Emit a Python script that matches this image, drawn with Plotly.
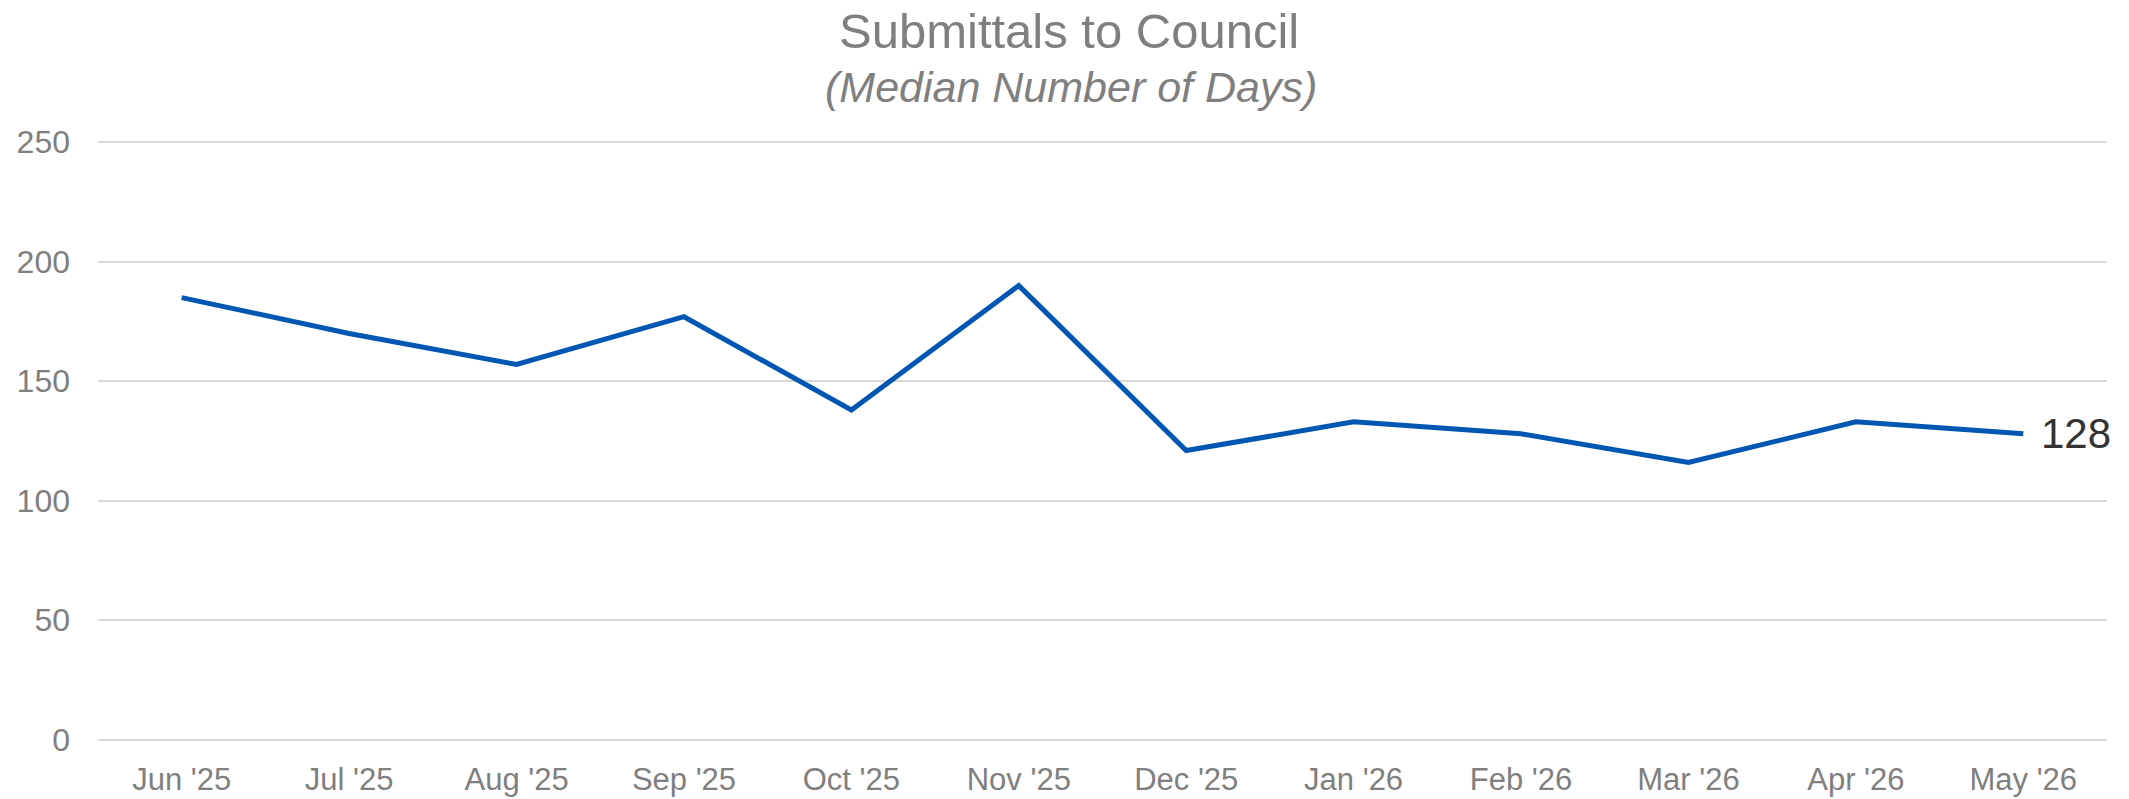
import plotly.graph_objects as go

months = ["Jun '25", "Jul '25", "Aug '25", "Sep '25", "Oct '25", "Nov '25",
          "Dec '25", "Jan '26", "Feb '26", "Mar '26", "Apr '26", "May '26"]
median_days = [185, 170, 157, 177, 138, 190, 121, 133, 128, 116, 133, 128]
y_ticks = [0, 50, 100, 150, 200, 250]

FONT = "Liberation Sans, Arial, sans-serif"
GRAY = "#7f7f7f"

W, H = 2129, 799
ml, mr, mt, mb = 98, 22, 141, 58
pw = W - ml - mr
ph = H - mt - mb


def px_x(p):
    return (p - ml) / pw


def px_y(p):
    return 1 + (mt - p) / ph


fig = go.Figure()
fig.add_trace(go.Scatter(
    x=months, y=median_days, mode="lines",
    line=dict(color="#0057b3", width=5),
    hoverinfo="x+y", showlegend=False,
))

fig.add_annotation(
    x=months[-1], y=median_days[-1], xref="x", yref="y",
    text=str(median_days[-1]), showarrow=False,
    xanchor="left", yanchor="middle", xshift=16,
    font=dict(family=FONT, size=42, color="#333333"),
)

fig.add_annotation(
    x=px_x(1069), y=px_y(31), xref="paper", yref="paper",
    xanchor="center", yanchor="middle",
    text="Submittals to Council", showarrow=False,
    font=dict(family=FONT, size=49, color=GRAY),
)
fig.add_annotation(
    x=px_x(1071), y=px_y(87), xref="paper", yref="paper",
    xanchor="center", yanchor="middle",
    text="<i>(Median Number of Days)</i>", showarrow=False,
    font=dict(family=FONT, size=43, color=GRAY),
)

fig.update_layout(
    width=W, height=H,
    margin=dict(l=ml, r=mr, t=mt, b=mb, autoexpand=False),
    plot_bgcolor="white", paper_bgcolor="white",
    font=dict(family=FONT, color=GRAY),
    xaxis=dict(
        type="category", range=[-0.5, len(months) - 0.5],
        showgrid=False, showline=False, zeroline=False,
        ticks="", tickfont=dict(size=31, color=GRAY),
        ticklabelstandoff=17,
        fixedrange=True,
    ),
    yaxis=dict(
        range=[-0.5, 250.5], tickvals=y_ticks,
        showgrid=True, gridcolor="#d9d9d9", gridwidth=1.5,
        zeroline=False, showline=False, ticks="",
        tickfont=dict(size=32, color=GRAY),
        ticklabelstandoff=27,
        fixedrange=True,
    ),
)

fig.write_html(
    "out.html",
    config={"displayModeBar": False},
    post_script="document.body.style.margin='0';document.body.style.overflow='hidden';",
)
